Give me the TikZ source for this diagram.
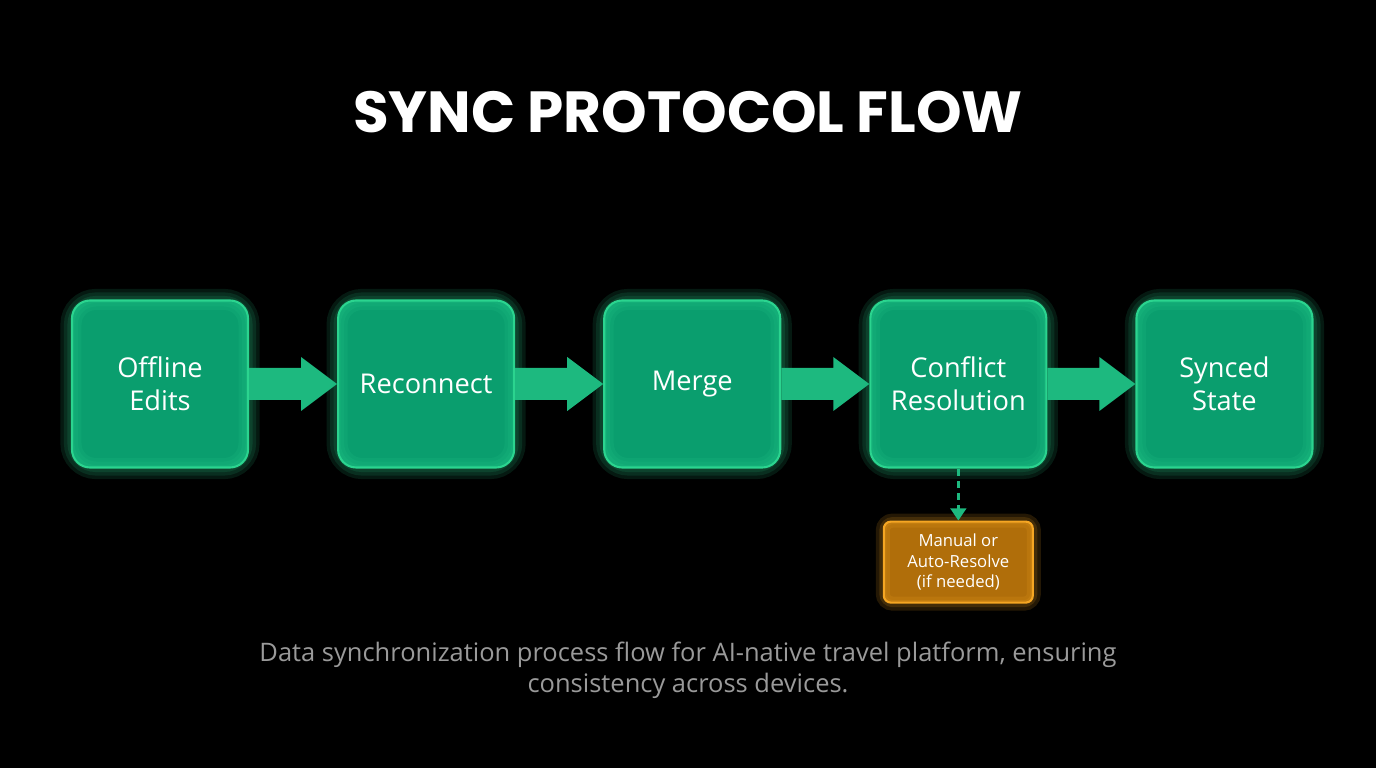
\documentclass[tikz,border=0pt]{standalone}
\usepackage{fontspec}
\setmainfont{Open Sans}
\newfontfamily\titlefont{Poppins}
\usetikzlibrary{positioning,calc,arrows.meta}

\definecolor{bgc}{HTML}{000000}
\definecolor{stagefill}{HTML}{0A9E6E}
\definecolor{stageedge}{HTML}{2BD48F}
\definecolor{flowc}{HTML}{1DB97F}
\definecolor{notefill}{HTML}{B06E0A}
\definecolor{noteedge}{HTML}{F5A623}
\definecolor{capc}{HTML}{9A9A9A}

\tikzset{
  stage/.style={rectangle,rounded corners=0.36cm,fill=stagefill,draw=stageedge,line width=1.2pt,
    minimum width=3.52cm,minimum height=3.34cm,align=center,text=white,
    font=\fontsize{15.5}{19}\selectfont},
  glow/.style={rounded corners=0.5cm,draw=stageedge,opacity=0.12,line width=#1},
  note/.style={rectangle,rounded corners=0.14cm,fill=notefill,draw=noteedge,line width=1.2pt,
    minimum width=2.98cm,minimum height=1.62cm,align=center,text=white,
    font=\fontsize{9.5}{11.5}\selectfont}
}
\newcommand{\blockarrow}[2]{%
  \fill[flowc] ($(#1.east)+(0,0.32)$) -- ($(#2.west)+(-0.72,0.32)$) -- ($(#2.west)+(-0.72,0.54)$)
    -- (#2.west) -- ($(#2.west)+(-0.72,-0.54)$) -- ($(#2.west)+(-0.72,-0.32)$)
    -- ($(#1.east)+(0,-0.32)$) -- cycle;}

\begin{document}
\begin{tikzpicture}[node distance=1.76cm]
\fill[bgc] (0,0) rectangle (27.52,15.36);
\useasboundingbox (0,0) rectangle (27.52,15.36);

\node[text=white,font=\titlefont\bfseries\fontsize{33}{40}\selectfont] (title) at (13.76,13.12) {SYNC PROTOCOL FLOW};

\node[stage] (offline) at (3.2,7.68) {Offline\\Edits};
\node[stage,right=of offline] (reconnect) {Reconnect};
\node[stage,right=of reconnect] (merge) {Merge};
\node[stage,right=of merge] (conflict) {Conflict\\Resolution};
\node[stage,right=of conflict] (synced) {Synced\\State};

% glow around the stages
\foreach \s in {offline,reconnect,merge,conflict,synced}{
  \foreach \w in {4pt,8pt,12pt}{
    \draw[glow=\w] (\s.south west) rectangle (\s.north east);
  }
}

\blockarrow{offline}{reconnect}
\blockarrow{reconnect}{merge}
\blockarrow{merge}{conflict}
\blockarrow{conflict}{synced}

\node[note,below=1.04cm of conflict] (manual) {Manual or\\Auto-Resolve\\(if needed)};
\foreach \w in {4pt,8pt}{
  \draw[rounded corners=0.2cm,draw=noteedge,opacity=0.15,line width=\w] (manual.south west) rectangle (manual.north east);
}
\draw[flowc,line width=1.5pt,dash pattern=on 4pt off 3pt,-{Triangle[width=9pt,length=7pt]}] (conflict.south) -- (manual.north);

\node[text=capc,align=center,font=\fontsize{14.5}{17.5}\selectfont] (caption) at (13.76,1.96)
  {Data synchronization process flow for AI-native travel platform, ensuring\\consistency across devices.};
\end{tikzpicture}
\end{document}
